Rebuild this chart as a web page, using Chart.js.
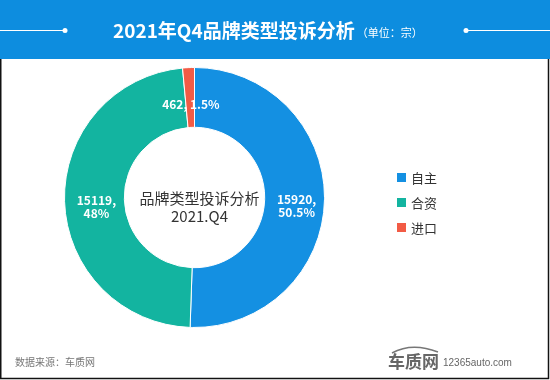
<!DOCTYPE html>
<html>
<head>
<meta charset="utf-8">
<script src="https://cdn.jsdelivr.net/npm/chart.js@4"></script>
<style>
html,body{margin:0;padding:0;background:#fff;}
#wrap{width:550px;height:380px;position:relative;}
canvas{display:block;}
</style>
</head>
<body>
<div id="wrap"><canvas id="c" width="550" height="380"></canvas></div>
<script>
const titleText = '2021年Q4品牌类型投诉分析';
const unitText = '（单位：宗）';
const centerLines = ['品牌类型投诉分析', '2021.Q4'];
const categories = ['自主', '合资', '进口'];
const values = [15920, 15119, 462];
const colors = ['#1490e2', '#13b4a0', '#f25b45'];
const sourceText = '数据来源：车质网';
const FONT = '"Noto Sans CJK SC", "Noto Sans", sans-serif';

const total = values.reduce((a, b) => a + b, 0);
function pct(v) {
  let s = (v / total * 100).toFixed(1);
  if (s.endsWith('.0')) s = s.slice(0, -2);
  return s + '%';
}

const decor = {
  id: 'decor',
  beforeDraw(chart) {
    const ctx = chart.ctx;
    ctx.save();
    ctx.fillStyle = '#fff';
    ctx.fillRect(0, 0, 550, 380);
    // header
    ctx.fillStyle = '#0d8ddf';
    ctx.fillRect(0, 0, 550, 59);
    ctx.strokeStyle = '#ffffff';
    ctx.lineWidth = 1;
    ctx.beginPath();
    ctx.moveTo(0, 30.5); ctx.lineTo(65, 30.5);
    ctx.moveTo(466, 30.5); ctx.lineTo(550, 30.5);
    ctx.stroke();
    ctx.fillStyle = '#fff';
    ctx.beginPath(); ctx.arc(65, 30.5, 2.5, 0, Math.PI * 2); ctx.fill();
    ctx.beginPath(); ctx.arc(466, 30.5, 2.5, 0, Math.PI * 2); ctx.fill();
    ctx.textBaseline = 'middle';
    ctx.textAlign = 'left';
    ctx.font = 'bold 19px ' + FONT;
    ctx.fillText(titleText, 113, 31);
    const tw = ctx.measureText(titleText).width;
    ctx.font = '11px ' + FONT;
    ctx.fillText(unitText, 113 + tw + 2, 33);
    // frame
    ctx.strokeStyle = '#111';
    ctx.lineWidth = 1.5;
    ctx.beginPath();
    ctx.moveTo(0.75, 59); ctx.lineTo(0.75, 378.5); ctx.lineTo(548.5, 378.5); ctx.lineTo(548.5, 59);
    ctx.stroke();
    // footer
    ctx.fillStyle = '#777';
    ctx.font = '10px ' + FONT;
    ctx.textAlign = 'left';
    ctx.fillText(sourceText, 15, 362);
    // logo
    ctx.fillStyle = '#666';
    ctx.font = 'bold 17px ' + FONT;
    ctx.fillText('车质网', 388, 362);
    ctx.strokeStyle = '#777';
    ctx.lineWidth = 1.5;
    ctx.beginPath();
    ctx.moveTo(392, 353);
    ctx.quadraticCurveTo(412, 342, 438, 352);
    ctx.stroke();
    ctx.font = '10px "Liberation Sans", Arial, sans-serif';
    ctx.fillStyle = '#666';
    ctx.fillText('12365auto.com', 443, 363);
    ctx.restore();
  },
  afterDatasetsDraw(chart) {
    const ctx = chart.ctx;
    const meta = chart.getDatasetMeta(0);
    ctx.save();
    ctx.textAlign = 'center';
    ctx.textBaseline = 'middle';
    ctx.fillStyle = '#fff';
    ctx.font = 'bold 12px ' + FONT;
    meta.data.forEach((arc, i) => {
      const p = arc.getProps(['x', 'y', 'startAngle', 'endAngle', 'innerRadius', 'outerRadius'], true);
      const mid = (p.startAngle + p.endAngle) / 2;
      const r = (p.innerRadius + p.outerRadius) / 2;
      const x = p.x + Math.cos(mid) * r;
      const y = p.y + Math.sin(mid) * r;
      const v = values[i];
      if (v / total < 0.05) {
        ctx.fillText(v + ', ' + pct(v), x + 1, y + 7);
      } else {
        ctx.fillText(v + ',', x + 2, y);
        ctx.fillText(pct(v), x + 2, y + 13);
      }
    });
    // center text
    const c = meta.data[0];
    ctx.fillStyle = '#333';
    ctx.font = '15px ' + FONT;
    ctx.fillText(centerLines[0], c.x + 5, 198);
    ctx.fillText(centerLines[1], c.x + 5, 216);
    // legend
    ctx.textAlign = 'left';
    ctx.font = '13px ' + FONT;
    const ys = [177, 202, 227];
    categories.forEach((name, i) => {
      ctx.fillStyle = colors[i];
      ctx.fillRect(397, ys[i] - 4, 9, 9);
      ctx.fillStyle = '#333';
      ctx.fillText(name, 411, ys[i] + 1);
    });
    ctx.restore();
  }
};

new Chart(document.getElementById('c'), {
  type: 'doughnut',
  data: {
    labels: categories,
    datasets: [{
      data: values,
      backgroundColor: colors,
      borderColor: '#ffffff',
      borderWidth: 1
    }]
  },
  options: {
    responsive: false,
    animation: false,
    cutout: '54%',
    layout: { padding: { left: 64, top: 67, right: 225, bottom: 52 } },
    plugins: {
      legend: { display: false },
      tooltip: { enabled: false }
    }
  },
  plugins: [decor]
});
</script>
</body>
</html>
